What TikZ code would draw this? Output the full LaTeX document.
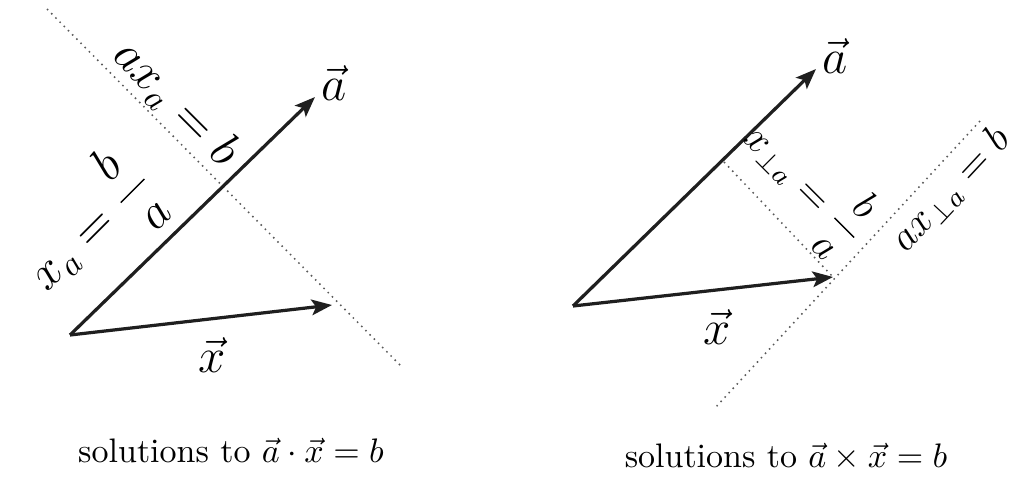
\documentclass[tikz,border=0pt]{standalone}
\usetikzlibrary{arrows.meta}
\begin{document}
\begin{tikzpicture}[x=0.2941pt,y=-0.2941pt,
  vec/.style={line width=0.95pt, draw=black!88, -{Stealth[length=6pt,width=4.6pt,inset=1.3pt]}},
  dots/.style={draw=black!65, line width=0.45pt, dash pattern=on 0.45pt off 1.3pt},
  lbl/.style={font=\Large, inner sep=0pt},
  slbl/.style={font=\large, inner sep=0pt},
  captext/.style={font=\normalsize, inner sep=0pt, anchor=base}]
\useasboundingbox (0,0) rectangle (1026,479);
% ---------- left diagram ----------
\coordinate (O1) at (70,335);
\coordinate (A1) at (315,97);
\coordinate (X1) at (332,305);
\coordinate (D1s) at (47,9);
\coordinate (D1e) at (403,368);
\draw[dots] (D1s) -- (D1e);
\draw[vec] (O1) -- (A1);
\draw[vec] (O1) -- (X1);
\node[lbl] (la1) at (334,83) {$\vec a$};
\node[lbl] (lx1) at (212,355) {$\vec x$};
\node[lbl, rotate=-45] (eq1) at (176,104) {$ax_a = b$};
\node[lbl, rotate=45] (eq2) at (90,227) {$\displaystyle x_a = \frac{\mkern1.5mu b\mkern1.5mu}{\mkern1.5mu a\mkern1.5mu}$};
\node[captext] (cap1) at (231,462) {solutions to $\vec a\cdot\vec x = b$};
% ---------- right diagram ----------
\coordinate (O2) at (573,306);
\coordinate (A2) at (816,69);
\coordinate (X2) at (833,277);
\coordinate (F2) at (724,162);
\coordinate (D2s) at (980,121);
\coordinate (D2e) at (715,408);
\draw[dots] (F2) -- (X2);
\draw[dots] (D2s) -- (D2e);
\draw[vec] (O2) -- (A2);
\draw[vec] (O2) -- (X2);
\node[lbl] (la2) at (835,56) {$\vec a$};
\node[lbl] (lx2) at (717,327) {$\vec x$};
\node[slbl, rotate=-45] (eq3) at (806,184) {$\displaystyle x_{\perp a} = \frac{\mkern1.5mu b\mkern1.5mu}{\mkern1.5mu a\mkern1.5mu}$};
\node[slbl, rotate=47] (eq4) at (951,190) {$ax_{\perp a} = b$};
\node[captext] (cap2) at (786,467) {solutions to $\vec a\times\vec x = b$};
\end{tikzpicture}
\end{document}
